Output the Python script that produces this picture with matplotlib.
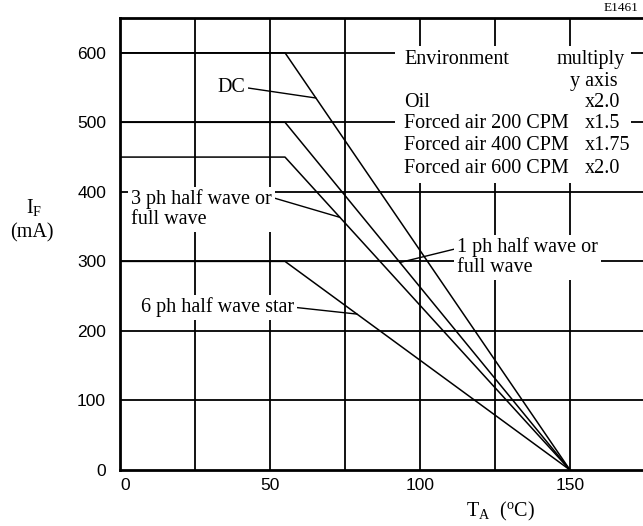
import numpy as np
import matplotlib
matplotlib.use("Agg")
import matplotlib.pyplot as plt
from matplotlib.patches import Rectangle

# ---- data ----
temps = [0, 55, 150]
dc = [600, 600, 0]
ph1 = [500, 500, 0]
ph3 = [450, 450, 0]
ph6 = [300, 300, 0]

x_ticks = [0, 50, 100, 150]
y_ticks = [0, 100, 200, 300, 400, 500, 600]
x_grid = [25, 50, 75, 100, 125, 150]
y_grid = [100, 200, 300, 400, 500, 600]

environments = ["Oil", "Forced air 200 CPM", "Forced air 400 CPM", "Forced air 600 CPM"]
multipliers = ["x2.0", "x1.5", "x1.75", "x2.0"]

plt.rcParams['mathtext.fontset'] = 'custom'
plt.rcParams['mathtext.rm'] = 'Liberation Serif'
plt.rcParams['mathtext.it'] = 'Liberation Serif:italic'

W, H = 643, 526
fig = plt.figure(figsize=(W / 100, H / 100), dpi=100)
ax = fig.add_axes([120 / W, (H - 470) / H, (645 - 120) / W, (470 - 18) / H])
ax.set_xlim(0, 175)
ax.set_ylim(0, 650)

for s in ['left', 'bottom', 'top']:
    ax.spines[s].set_linewidth(2.0)
ax.spines['right'].set_visible(False)

for xv in x_grid:
    ax.axvline(xv, color='black', lw=1.3, zorder=1)
for yv in y_grid:
    ax.axhline(yv, color='black', lw=1.3, zorder=1)

# white area behind the table
ax.add_patch(Rectangle((91.7, 413), 78.6, 197, facecolor='white', edgecolor='none', zorder=2))

for vals in (dc, ph1, ph3, ph6):
    ax.plot(temps, vals, color='black', lw=1.1, zorder=3)

ax.set_xticks(x_ticks)
ax.set_yticks(y_ticks)
ax.tick_params(length=0, labelsize=12.5)
ax.tick_params(axis='y', pad=10)
ax.tick_params(axis='x', pad=6)
for lab in ax.get_xticklabels() + ax.get_yticklabels():
    lab.set_fontfamily('Liberation Sans')
ax.get_xticklabels()[0].set_horizontalalignment('left')

serif = 'Liberation Serif'
fs = 14.5

# table
ax.text(94.7, 590, "Environment", family=serif, fontsize=fs, va='center', ha='left', zorder=4)
ax.text(168.3, 590, "multiply", family=serif, fontsize=fs, va='center', ha='right', zorder=4)
ax.text(166.0, 558, "y axis", family=serif, fontsize=fs, va='center', ha='right', zorder=4)
row_y = [528, 499, 467, 434]
for env, mul, yy in zip(environments, multipliers, row_y):
    ax.text(94.7, yy, env, family=serif, fontsize=fs, va='center', ha='left', zorder=4)
    ax.text(155.0, yy, mul, family=serif, fontsize=fs, va='center', ha='left', zorder=4)

box = dict(facecolor='white', edgecolor='none', pad=2)
arrow = dict(arrowstyle='-', lw=1.0, color='black', shrinkA=0, shrinkB=0)

def on(series, xv):
    return float(np.interp(xv, temps, series))

ax.annotate("DC", xy=(65.3, on(dc, 65.3)), xytext=(37, 550), family=serif, fontsize=fs,
            ha='center', va='center', bbox=box, zorder=4,
            arrowprops=dict(arrow, relpos=(1, 0.5)))
ax.annotate("3 ph half wave or\nfull wave", xy=(73.3, on(ph3, 73.3)), xytext=(3.7, 375),
            family=serif, fontsize=fs, ha='left', va='center', bbox=box, zorder=4,
            linespacing=1.05, arrowprops=dict(arrow, relpos=(1, 0.8)))
ax.annotate("1 ph half wave or\nfull wave", xy=(93.3, on(ph1, 93.3)), xytext=(112.3, 306),
            family=serif, fontsize=fs, ha='left', va='center', bbox=box, zorder=4,
            linespacing=1.05, arrowprops=dict(arrow, relpos=(0, 0.72)))
ax.annotate("6 ph half wave star", xy=(79, on(ph6, 79)), xytext=(7, 234),
            family=serif, fontsize=fs, ha='left', va='center', bbox=box, zorder=4,
            arrowprops=dict(arrow, relpos=(1, 0.5)))

fig.text(34 / W, 1 - 208 / H, r"I$_{\mathrm{F}}$", family=serif, fontsize=fs, ha='center', va='center')
fig.text(32 / W, 1 - 233 / H, "(mA)", family=serif, fontsize=fs, ha='center', va='center')
fig.text(500 / W, 1 - 511 / H, r"T$_{\mathrm{A}}$  ($^{\mathrm{o}}$C)", family=serif, fontsize=fs,
         ha='center', va='center')
fig.text(621 / W, 1 - 8 / H, "E1461", family=serif, fontsize=9.5, ha='center', va='center')

fig.savefig("out.png", dpi=100)
